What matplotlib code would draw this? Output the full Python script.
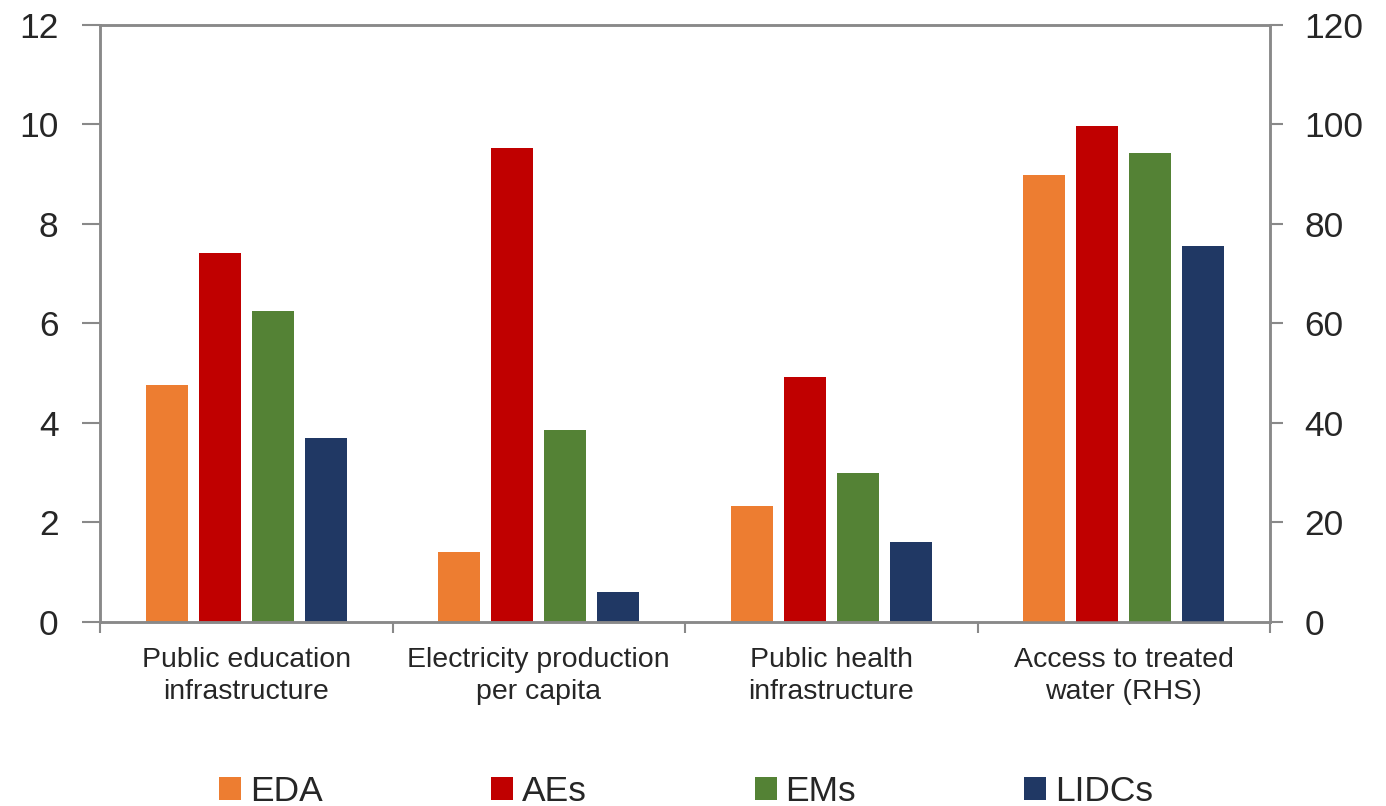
import matplotlib.pyplot as plt
import numpy as np

# categories and series (last category is read on the right-hand axis)
categories = ["Public education\ninfrastructure", "Electricity production\nper capita",
              "Public health\ninfrastructure", "Access to treated\nwater (RHS)"]
series = ["EDA", "AEs", "EMs", "LIDCs"]
colors = ["#ED7D31", "#C00000", "#548235", "#203864"]

# left-axis values for first three categories
eda_lhs = [4.76, 1.41, 2.33]
aes_lhs = [7.42, 9.53, 4.92]
ems_lhs = [6.25, 3.86, 2.99]
lidcs_lhs = [3.70, 0.60, 1.61]

# right-axis values for the water category
eda_rhs = 89.8
aes_rhs = 99.7
ems_rhs = 94.3
lidcs_rhs = 75.6

lhs = [eda_lhs, aes_lhs, ems_lhs, lidcs_lhs]
rhs = [eda_rhs, aes_rhs, ems_rhs, lidcs_rhs]

plt.rcParams['font.family'] = ['Liberation Sans', 'DejaVu Sans']
spine_col = "#898989"
text_col = "#262626"

fig = plt.figure(figsize=(13.86, 8.06), dpi=100)
ax = fig.add_axes([0.0722, 0.2283, 0.9163 - 0.0722, 0.969 - 0.2283])
ax2 = ax.twinx()

step = 0.181
width = 0.144
x = np.arange(3)
for i in range(4):
    off = (i - 1.5) * step
    ax.bar(x + off, lhs[i], width, color=colors[i], label=series[i])
    ax2.bar(3 + off, rhs[i], width, color=colors[i])

ax.set_xlim(-0.5, 3.5)
ax.set_ylim(0, 12)
ax2.set_ylim(0, 120)
ax.set_yticks(np.arange(0, 13, 2))
ax2.set_yticks(np.arange(0, 121, 20))

ax.set_xticks(np.arange(4))
ax.set_xticklabels(categories, linespacing=1.3)
ax.set_xticks(np.arange(-0.5, 3.6, 1), minor=True)
ax.tick_params(axis='x', which='major', length=0, pad=18, labelsize=20.5, colors=text_col)
ax.tick_params(axis='x', which='minor', length=8, width=1.5, color=spine_col, direction='out')
ax.tick_params(axis='y', length=13, width=1.5, color=spine_col, pad=17, labelsize=25.5,
               labelcolor=text_col, direction='out')
ax2.tick_params(axis='y', length=9, width=1.5, color=spine_col, pad=16, labelsize=25.5,
                labelcolor=text_col, direction='out')

for a in (ax, ax2):
    for s in a.spines.values():
        s.set_color(spine_col)
        s.set_linewidth(1.8)

fig.legend(loc='center', bbox_to_anchor=(0.495, 0.0186), ncol=4, frameon=False,
           fontsize=25.5, handlelength=0.62, handleheight=0.62, handletextpad=0.25,
           columnspacing=4.75, labelcolor=text_col)

fig.savefig("out.png", dpi=100)
